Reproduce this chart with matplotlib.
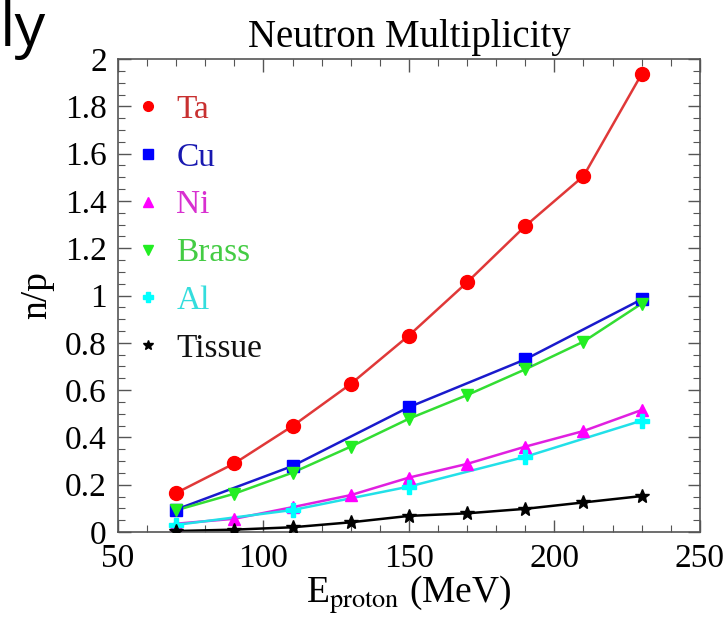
import matplotlib
matplotlib.use("Agg")
import matplotlib.pyplot as plt
from matplotlib.lines import Line2D
from matplotlib.ticker import MultipleLocator, FuncFormatter

plt.rcParams['font.family'] = ['Liberation Serif', 'DejaVu Serif']
plt.rcParams['mathtext.fontset'] = 'stix'

# ---- data ----
ta_x = [70, 90, 110, 130, 150, 170, 190, 210, 230]
ta_y = [0.165, 0.29, 0.448, 0.626, 0.831, 1.056, 1.294, 1.505, 1.937]

cu_x = [70, 110, 150, 190, 230]
cu_y = [0.095, 0.279, 0.528, 0.730, 0.984]

ni_x = [70, 90, 110, 130, 150, 170, 190, 210, 230]
ni_y = [0.035, 0.056, 0.105, 0.156, 0.230, 0.288, 0.361, 0.427, 0.516]

brass_x = [70, 90, 110, 130, 150, 170, 190, 210, 230]
brass_y = [0.092, 0.162, 0.251, 0.361, 0.479, 0.579, 0.688, 0.805, 0.966]

al_x = [70, 110, 150, 190, 230]
al_y = [0.03, 0.093, 0.192, 0.318, 0.471]

tissue_x = [70, 90, 110, 130, 150, 170, 190, 210, 230]
tissue_y = [0.004, 0.01, 0.02, 0.041, 0.068, 0.079, 0.098, 0.125, 0.152]

series = [
    ("Ta", ta_x, ta_y, "#ff0000", "#e03838", "o", 10),
    ("Cu", cu_x, cu_y, "#0000ff", "#1a1acc", "s", 9),
    ("Ni", ni_x, ni_y, "#ff00ff", "#e020e0", "^", 9),
    ("Brass", brass_x, brass_y, "#22ee22", "#33dd33", "v", 9),
    ("Al", al_x, al_y, "#00ffff", "#22e0e8", "P", 10),
    ("Tissue", tissue_x, tissue_y, "#000000", "#000000", "*", 10),
]
label_colors = {"Ta": "#c83030", "Cu": "#1818b0", "Ni": "#d830d0",
                "Brass": "#44cc44", "Al": "#33dddd", "Tissue": "#111111"}

fig = plt.figure(figsize=(7.26, 6.22), dpi=100)
ax = fig.add_axes([0.1625, 0.1447, 0.8015, 0.7603])

for name, xs, ys, mc, lc, mk, ms in series:
    ax.plot(xs, ys, color=lc, lw=1.8, zorder=2)
    ax.plot(xs, ys, ls='none', marker=mk, ms=ms, color=mc, mec=mc, zorder=3)

ax.set_xlim(50, 250)
ax.set_ylim(0, 2)
ax.xaxis.set_major_locator(MultipleLocator(50))
ax.xaxis.set_minor_locator(MultipleLocator(10))
ax.yaxis.set_major_locator(MultipleLocator(0.2))
ax.yaxis.set_minor_locator(MultipleLocator(0.05))
ax.yaxis.set_major_formatter(FuncFormatter(lambda v, p: f"{v:g}"))
ax.tick_params(which='both', direction='in', top=True, right=True, color='#555555')
ax.tick_params(which='major', length=9, width=1.0, labelsize=24, pad=8)
ax.tick_params(which='minor', length=5, width=0.8)
for s in ax.spines.values():
    s.set_color('#555555')
    s.set_linewidth(1.2)

ax.set_title("Neutron Multiplicity", fontsize=28, pad=9)
ax.set_xlabel(r"E$_{\mathrm{proton}}$ (MeV)", fontsize=27, labelpad=0)
ax.set_ylabel("n/p", fontsize=27, labelpad=8)

handles = [Line2D([], [], ls='none', marker=mk, ms=7, color=mc, mec=mc, label=name)
           for name, xs, ys, mc, lc, mk, ms in series]
leg = ax.legend(handles=handles, loc='upper left', bbox_to_anchor=(0.0, 0.968),
                frameon=False, fontsize=24, labelspacing=0.52, handlelength=0.6,
                handletextpad=0.55, borderaxespad=0.2)
for t in leg.get_texts():
    t.set_color(label_colors[t.get_text()])

fig.text(0.0, 1.0, "ly", fontsize=44, family=['Open Sans', 'DejaVu Sans'],
         ha='left', va='top')

fig.savefig("out.png", dpi=100)
